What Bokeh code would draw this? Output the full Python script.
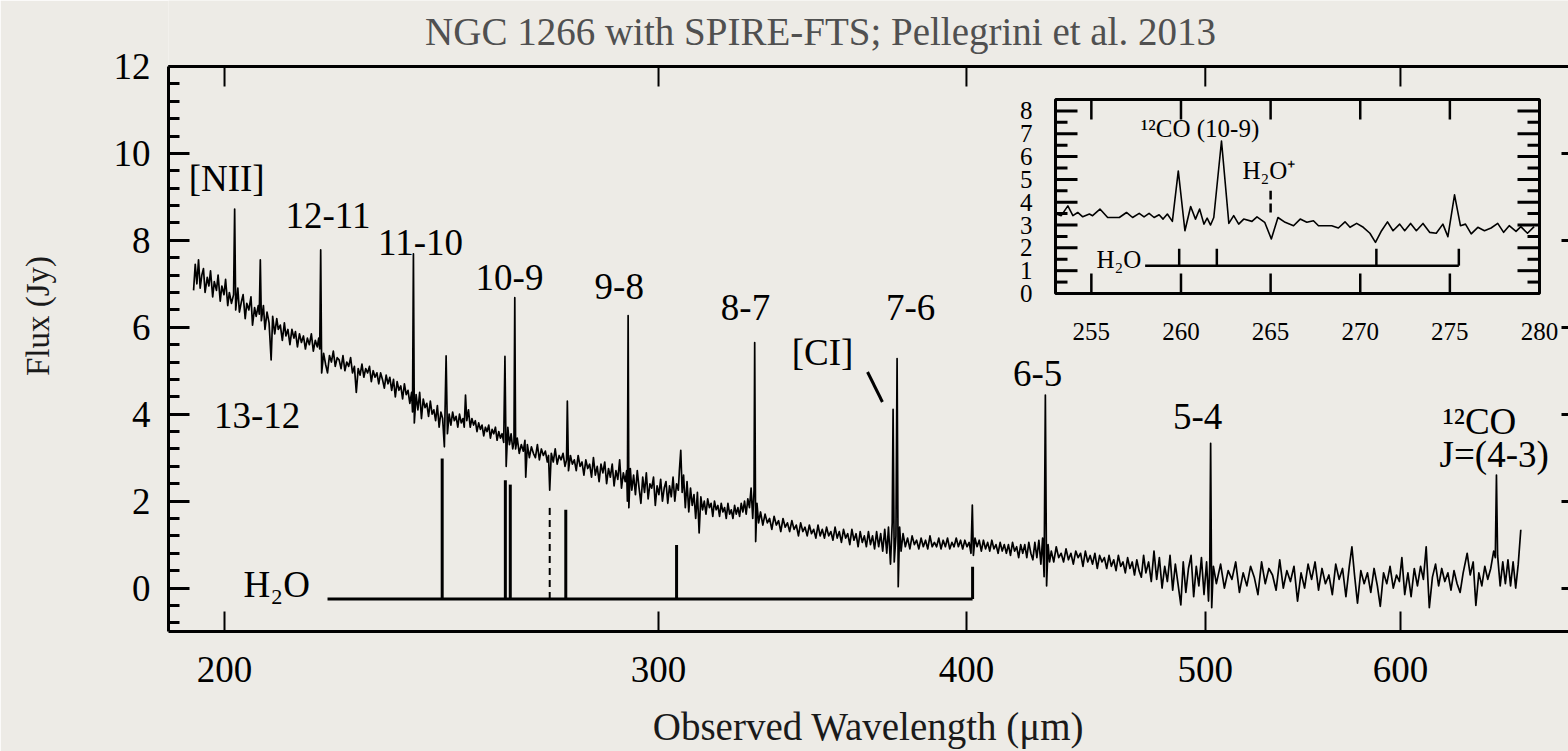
from math import log10
from bokeh.plotting import figure
from bokeh.models import (Range1d, LinearScale, LinearAxis, FixedTicker,
                          SingleIntervalTicker, PrintfTickFormatter, CustomJSTickFormatter)
from bokeh.core.properties import value
from bokeh.embed import file_html
from bokeh.resources import INLINE

FONT = "Liberation Serif"
BG = "#edebe6"

# ---------------- main spectrum: (wavelength um, flux Jy) ----------------
spec_a = [(194.3, 6.85), (194.6, 7.45), (194.9, 7.0), (195.2, 7.55), (195.5, 6.9), (195.8, 7.2),
          (196.1, 7.35), (196.4, 6.8), (196.8, 7.15), (197.1, 6.95), (197.4, 7.3), (197.8, 6.7),
          (198.1, 7.05), (198.5, 6.85), (198.8, 7.2), (199.2, 6.6), (199.5, 6.95), (199.9, 6.75),
          (200.2, 7.1), (200.6, 6.5), (200.9, 6.8), (201.3, 6.55), (201.7, 6.75), (201.9, 8.72),
          (202.1, 6.4), (202.5, 6.9), (202.8, 6.35), (203.2, 6.6), (203.5, 6.75), (203.9, 6.2),
          (204.2, 6.55), (204.6, 6.4), (205.0, 6.7), (205.3, 6.05), (205.7, 6.45), (206.0, 6.25),
          (206.4, 6.5), (206.6, 6.3), (206.8, 7.55), (207.0, 6.15), (207.4, 6.5), (207.7, 5.95),
          (208.1, 6.35), (208.5, 6.1), (208.9, 5.25), (209.2, 6.25), (209.6, 5.85), (210.0, 6.2),
          (210.3, 5.95), (210.7, 6.05), (211.1, 5.7), (211.5, 6.1), (211.8, 5.8), (212.2, 5.95),
          (212.6, 5.6), (213.0, 5.95), (213.4, 5.75), (213.7, 5.9), (214.1, 5.55), (214.5, 5.85),
          (214.9, 5.65), (215.3, 5.8), (215.7, 5.5), (216.1, 5.75), (216.5, 5.6), (216.9, 5.85),
          (217.3, 5.45), (217.7, 5.7), (218.1, 5.55), (218.4, 5.75), (218.6, 5.5), (218.8, 7.78),
          (219.0, 4.95)]
spec_b = [(219.4, 5.4), (219.8, 5.15), (220.2, 4.95), (220.6, 5.35), (221.0, 5.2), (221.4, 5.45),
          (221.8, 5.1), (222.2, 5.3), (222.6, 5.25), (223.0, 5.05), (223.4, 5.35), (223.8, 5.0),
          (224.2, 5.2), (224.6, 5.1), (225.0, 5.3), (225.4, 4.95), (225.8, 5.1), (226.2, 4.5),
          (226.6, 5.05), (227.0, 4.9), (227.4, 5.15), (227.8, 4.85), (228.2, 5.05), (228.6, 4.95),
          (229.0, 5.1), (229.4, 4.75), (229.8, 5.0), (230.2, 4.85), (230.6, 4.95), (231.0, 4.7),
          (231.4, 4.95), (231.8, 4.8), (232.2, 4.6), (232.6, 4.9), (233.0, 4.7), (233.4, 4.85),
          (233.8, 4.55), (234.2, 4.8), (234.6, 4.4), (235.0, 4.75), (235.4, 4.55), (235.8, 4.65),
          (236.2, 4.35), (236.6, 4.7), (237.0, 4.45), (237.4, 4.55), (237.8, 4.25), (238.2, 4.5),
          (238.4, 4.05), (238.6, 7.69), (238.8, 3.8), (239.2, 4.45), (239.6, 4.1), (240.0, 4.5),
          (240.4, 3.9), (240.8, 4.35), (241.2, 4.15), (241.6, 4.25), (242.0, 3.95), (242.4, 4.3),
          (242.8, 4.0), (243.2, 4.1), (243.6, 3.85), (244.0, 4.2), (244.4, 3.7), (244.8, 4.05),
          (245.2, 3.9), (245.6, 3.25), (246.0, 5.34), (246.3, 3.55)]
spec_c = [(246.7, 4.0), (247.1, 3.75), (247.5, 4.05), (247.9, 3.85), (248.3, 3.95), (248.7, 3.7),
          (249.1, 4.0), (249.5, 3.8), (249.9, 3.9), (250.2, 3.7), (250.5, 4.44), (250.8, 3.85),
          (251.2, 4.1), (251.6, 3.7), (252.0, 3.9), (252.4, 3.75), (252.8, 3.85), (253.2, 3.6),
          (253.6, 3.8), (254.0, 3.65), (254.4, 3.75), (254.8, 3.5), (255.2, 3.7), (255.6, 3.6),
          (256.0, 3.75), (256.4, 3.45), (256.8, 3.65), (257.2, 3.55), (257.6, 3.7), (258.0, 3.4),
          (258.4, 3.6), (258.8, 3.45), (259.2, 3.55), (259.6, 3.35), (259.9, 5.33), (260.2, 2.8),
          (260.6, 3.7), (261.0, 3.3), (261.4, 3.55), (261.8, 3.2), (262.1, 3.35), (262.3, 6.68),
          (262.5, 3.2)]
spec_d = [(262.9, 3.45), (263.4, 3.1), (263.9, 3.3), (264.4, 3.15), (264.8, 3.4), (265.0, 2.55),
          (265.4, 3.3), (265.9, 3.0), (266.4, 3.25), (266.9, 3.1), (267.4, 3.0), (267.9, 3.3),
          (268.4, 2.95), (268.9, 3.2), (269.4, 3.05), (269.9, 3.15), (270.4, 2.9), (270.7, 3.05),
          (271.0, 2.25), (271.4, 3.1), (271.9, 2.9), (272.4, 3.2), (272.9, 2.85), (273.4, 3.05),
          (273.9, 2.95), (274.4, 3.1), (274.9, 2.8), (275.3, 2.95), (275.5, 4.3), (275.8, 2.7),
          (276.3, 3.05), (276.8, 2.85), (277.3, 2.95), (277.8, 2.7), (278.3, 3.05), (278.8, 2.8),
          (279.3, 2.9), (279.8, 2.6), (280.3, 2.95), (280.8, 2.75), (281.3, 2.85), (281.8, 2.55),
          (282.3, 3.0), (282.8, 2.6), (283.3, 2.8), (283.8, 2.45), (284.3, 2.85), (284.8, 2.65),
          (285.3, 2.9), (285.8, 2.4), (286.3, 2.75), (286.8, 2.55), (287.3, 2.85), (287.8, 2.35),
          (288.3, 2.7), (288.8, 2.5), (289.3, 2.95), (289.8, 2.3), (290.3, 2.65), (290.8, 2.45),
          (291.2, 2.7), (291.4, 2.0), (291.6, 6.27), (291.8, 1.85), (292.2, 2.75), (292.6, 2.25)]
spec_e = [(293.1, 2.6), (293.6, 2.15), (294.1, 2.7), (294.6, 2.3), (295.1, 1.95), (295.6, 2.55),
          (296.1, 2.2), (296.6, 2.65), (297.1, 2.05), (297.6, 2.4), (298.1, 2.3), (298.6, 2.55),
          (299.1, 1.9), (299.6, 2.35), (300.1, 2.15), (300.6, 2.5), (301.1, 2.0), (301.6, 2.3),
          (302.1, 2.45), (302.6, 1.95), (303.1, 2.35), (303.6, 2.1), (304.1, 2.55), (304.6, 2.0),
          (305.1, 2.4), (305.6, 2.25), (305.9, 2.7), (306.3, 3.17), (306.7, 2.2), (307.1, 2.6),
          (307.6, 1.85), (308.1, 2.45), (308.6, 1.75), (309.1, 2.3), (309.6, 1.9), (310.1, 2.15),
          (310.6, 1.6), (311.1, 2.2), (311.6, 1.27), (312.1, 2.1), (312.6, 1.8), (313.1, 2.0),
          (313.6, 1.7), (314.1, 2.05), (314.6, 1.85), (315.1, 1.95), (315.6, 1.65), (316.1, 2.0),
          (316.6, 1.8), (317.1, 1.9), (317.6, 1.65), (318.1, 1.95), (318.6, 1.75), (319.1, 1.85),
          (319.6, 1.6), (320.1, 1.95), (320.6, 1.7), (321.1, 1.8), (321.6, 1.6), (322.1, 1.9),
          (322.6, 1.7), (323.1, 1.85), (323.6, 1.65), (324.1, 1.95), (324.6, 1.75), (325.1, 2.0),
          (325.6, 1.7), (326.1, 2.05), (326.6, 1.85), (327.1, 2.3), (327.6, 1.6), (328.0, 2.25),
          (328.2, 5.65), (328.5, 1.07), (328.9, 1.95), (329.4, 1.5)]
spec_f = [(330.0, 1.75), (330.7, 1.45), (331.4, 1.7), (332.1, 1.5), (332.8, 1.6), (333.5, 1.35),
          (334.2, 1.65), (334.9, 1.45), (335.6, 1.55), (336.3, 1.3), (337.0, 1.6), (337.7, 1.4),
          (338.4, 1.5), (339.1, 1.3), (339.8, 1.55), (340.5, 1.35), (341.2, 1.45), (341.9, 1.2),
          (342.6, 1.5), (343.3, 1.3), (344.0, 1.4), (344.7, 1.2), (345.4, 1.45), (346.1, 1.25),
          (346.8, 1.35), (347.5, 1.15), (348.2, 1.45), (348.9, 1.2), (349.6, 1.35), (350.3, 1.15),
          (351.0, 1.4), (351.7, 1.2), (352.4, 1.3), (353.1, 1.1), (353.8, 1.4), (354.5, 1.15),
          (355.2, 1.3), (355.9, 1.05), (356.6, 1.35), (357.3, 1.15), (358.0, 1.25), (358.7, 1.0),
          (359.4, 1.35), (360.1, 1.1), (360.8, 1.25), (361.5, 0.95), (362.2, 1.3), (362.9, 1.05),
          (363.6, 1.2), (364.3, 0.95), (365.0, 1.3), (365.7, 1.0), (366.4, 1.2), (367.1, 0.9),
          (367.8, 1.3), (368.5, 0.95), (369.2, 1.25), (369.9, 0.85), (370.6, 1.35), (371.3, 0.8),
          (371.9, 1.4), (372.6, 0.55), (373.2, 1.5), (373.5, 4.11), (373.9, 0.6), (374.5, 1.2),
          (374.9, 5.28), (375.3, 0.03), (375.8, 1.4), (376.3, 0.85)]
spec_g = [(377.0, 1.25), (377.8, 0.95), (378.6, 1.15), (379.4, 0.9), (380.2, 1.2), (381.0, 1.0),
          (381.8, 1.1), (382.6, 0.9), (383.4, 1.15), (384.2, 0.95), (385.0, 1.1), (385.8, 0.9),
          (386.6, 1.2), (387.4, 0.95), (388.2, 1.05), (389.0, 0.95), (389.8, 1.15), (390.6, 0.9),
          (391.4, 1.1), (392.2, 0.95), (393.0, 1.15), (393.8, 0.9), (394.6, 1.05), (395.4, 0.95),
          (396.2, 1.15), (397.0, 0.95), (397.8, 1.1), (398.6, 0.9), (399.4, 1.1), (400.2, 0.95),
          (401.0, 1.05), (401.7, 0.8), (402.2, 1.91), (402.6, 0.75), (403.2, 1.15), (404.0, 0.95),
          (404.8, 1.1), (405.6, 0.85), (406.4, 1.1), (407.2, 0.9), (408.0, 1.05), (408.8, 0.85),
          (409.6, 1.1), (410.4, 0.9), (411.2, 1.0), (412.0, 0.8), (412.8, 1.05), (413.6, 0.85),
          (414.4, 1.0), (415.2, 0.8), (416.0, 1.0), (416.8, 0.75), (417.6, 1.05), (418.4, 0.85),
          (419.2, 0.95), (420.0, 0.7), (420.8, 1.0), (421.6, 0.8), (422.4, 1.0), (423.2, 0.7),
          (424.0, 1.05), (424.8, 0.8), (425.6, 0.65), (426.4, 1.05), (427.2, 0.7), (428.0, 1.1),
          (428.8, 0.55), (429.5, 1.15), (430.1, 0.26), (430.6, 4.44), (431.1, 0.05), (431.7, 1.0),
          (432.3, 0.6)]
spec_h = [(433.0, 0.85), (434.0, 0.6), (435.0, 0.95), (436.0, 0.7), (437.0, 0.8), (438.0, 0.6),
          (439.0, 0.9), (440.0, 0.65), (441.0, 0.8), (442.0, 0.55), (443.0, 0.85), (444.0, 0.7),
          (445.0, 0.8), (446.0, 0.5), (447.0, 0.85), (448.0, 0.6), (449.0, 0.75), (450.0, 0.55),
          (451.0, 0.8), (452.0, 0.45), (453.0, 0.75), (454.0, 0.6), (455.0, 0.7), (456.0, 0.45),
          (457.0, 0.75), (458.0, 0.5), (459.0, 0.65), (460.0, 0.4), (461.0, 0.75), (462.0, 0.5),
          (463.0, 0.6), (464.0, 0.35), (465.0, 0.7), (466.0, 0.45), (467.0, 0.6), (468.0, 0.3),
          (469.0, 0.65), (470.0, 0.4), (471.0, 0.25), (472.0, 0.75), (473.0, 0.35), (474.2, 0.6),
          (475.4, 0.15), (476.6, 0.85), (477.8, 0.2), (479.0, 0.7), (480.2, 0.0), (481.4, 0.5),
          (482.6, 0.15), (483.8, 0.75), (485.0, -0.05), (486.2, 0.55), (487.4, 0.1), (488.7, -0.39),
          (489.8, 0.6), (491.0, -0.1), (492.2, 0.45), (493.4, 0.75), (494.6, -0.2), (495.8, 0.5),
          (497.0, 0.05), (498.2, 0.7), (499.4, -0.15), (500.6, 0.6), (501.5, -0.3), (502.1, 0.55),
          (502.5, 3.33), (503.0, -0.45), (503.8, 0.5)]
spec_i = [(505.2, 0.1), (507.2, 0.55), (509.0, 0.0), (510.8, 0.4), (512.6, 0.2), (514.4, 0.6),
          (516.2, -0.1), (518.0, 0.35), (519.8, 0.05), (521.6, 0.5), (523.4, 0.25), (525.2, -0.15),
          (527.0, 0.6), (528.8, 0.1), (530.6, 0.45), (532.4, 0.3), (534.2, -0.05), (536.0, 0.65),
          (537.8, 0.0), (539.6, 0.4), (541.4, 0.15), (543.2, 0.5), (545.0, -0.3), (546.8, 0.35),
          (548.6, 0.0), (550.4, 0.55), (552.2, 0.2), (554.0, 0.6), (555.8, -0.05), (557.6, 0.45),
          (559.4, 0.1), (561.2, 0.3), (563.0, -0.15), (564.8, 0.55), (566.6, 0.2), (568.4, 0.45),
          (570.2, -0.2), (572.0, 0.5), (573.4, 0.95), (574.8, 0.3), (576.4, -0.35), (578.2, 0.4),
          (580.0, 0.1), (581.8, 0.35), (583.6, -0.1), (585.4, 0.45), (587.2, 0.05), (588.8, -0.42),
          (590.6, 0.35), (592.4, 0.1), (594.2, 0.5), (596.0, 0.0), (597.8, 0.3), (599.4, 0.15),
          (600.8, 0.7), (602.4, -0.15), (604.2, 0.35), (606.0, -0.2), (607.8, 0.45), (609.6, 0.05),
          (611.4, 0.5), (613.0, 0.2), (614.6, 0.95), (616.4, -0.45), (618.2, 0.25), (620.0, 0.55),
          (621.8, 0.05), (623.6, 0.45), (625.4, 0.15), (627.2, 0.35), (629.0, -0.05), (630.8, 0.4),
          (632.6, 0.1), (634.4, -0.1), (636.2, 0.35), (638.6, 0.8), (640.4, 0.3), (642.2, 0.6),
          (643.8, -0.4), (645.6, 0.35), (647.4, 0.05), (649.2, 0.5), (651.0, 0.2), (652.8, 0.45),
          (654.6, 0.85), (655.6, 0.7), (656.3, 2.6), (657.0, 0.75), (658.6, 0.05), (660.2, 0.6),
          (661.8, 0.1), (663.4, 0.65), (665.0, 0.05), (666.6, 0.6), (668.2, 0.0), (669.8, 0.55),
          (671.4, 1.34)]
spec_chunks = [spec_a, spec_b, spec_c, spec_d, spec_e, spec_f, spec_g, spec_h, spec_i]

# ---------------- inset spectrum (zoom of 253-280 um) ----------------
inset_wave = [253.04, 253.32, 253.69, 253.97, 254.24, 254.52, 254.89, 255.07, 255.48, 255.91,
              256.56, 256.96, 257.30, 257.67, 257.94, 258.22, 258.50, 258.78, 259.00, 259.24,
              259.52, 259.85, 260.22, 260.54, 260.81, 261.04, 261.28, 261.46, 261.65, 261.83,
              262.26, 262.67, 262.94, 263.22, 263.50, 263.96, 264.24, 264.67, 265.04, 265.41,
              265.81, 266.28, 266.65, 267.02, 267.39, 267.67, 268.04, 268.41, 268.78, 269.15,
              269.43, 269.80, 270.17, 270.54, 270.85, 271.19, 271.52, 271.83, 272.20, 272.48,
              272.81, 273.13, 273.50, 273.87, 274.24, 274.61, 274.89, 275.26, 275.59, 275.87,
              276.19, 276.56, 276.93, 277.30, 277.67, 278.00, 278.31, 278.69, 278.96, 279.33,
              279.70]
inset_flux = [3.48, 3.41, 3.84, 3.41, 3.55, 3.36, 3.48, 3.41, 3.70, 3.33,
              3.33, 3.55, 3.33, 3.51, 3.36, 3.51, 3.33, 3.45, 3.26, 3.48,
              3.16, 5.37, 2.75, 3.81, 3.26, 3.70, 3.04, 3.30, 3.00, 3.33,
              6.68, 3.07, 3.41, 3.04, 3.26, 3.16, 3.36, 3.12, 2.39, 3.33,
              3.12, 2.97, 3.26, 3.12, 3.19, 2.97, 2.97, 2.97, 2.87, 3.14,
              2.90, 3.07, 2.90, 2.64, 2.24, 2.75, 3.14, 2.75, 3.04, 2.75,
              3.07, 2.75, 3.07, 2.68, 2.64, 3.04, 2.49, 4.32, 2.97, 3.04,
              2.61, 2.90, 2.75, 2.87, 3.07, 2.68, 2.97, 2.72, 2.93, 2.64,
              2.93]

# ---------------- ticks ----------------
x_ticks = [200, 300, 400, 500, 600]
inset_x_ticks = [255, 260, 265, 270, 275, 280]
inset_y_ticks = [0, 1, 2, 3, 4, 5, 6, 7, 8]

# ---------------- line identifications ----------------
line_labels = ["[NII]", "12-11", "11-10", "10-9", "9-8", "8-7", "7-6", "[CI]", "6-5", "5-4", "13-12"]
line_label_wave = [200.4, 220.3, 240.2, 261.0, 289.2, 325.4, 379.7, 349.7, 427.5, 496.4, 206.2]
line_label_flux = [9.42, 8.57, 7.95, 7.15, 6.94, 6.46, 6.46, 5.42, 4.94, 3.95, 3.98]
ci_pointer_wave = [364.7, 369.8]
ci_pointer_flux = [4.97, 4.28]

h2o_wave = [245.1, 260.0, 261.2, 275.1, 305.1, 402.3]
h2o_top = [2.98, 2.48, 2.38, 1.80, 0.99, 0.49]
h2o_dashed_wave = [271.0]
h2o_dashed_top = [1.87]
h2o_base = -0.25
h2o_span = [220.2, 402.3]

inset_h2o_wave = [259.9, 262.0, 270.9, 275.5]
inset_h2o_base = 1.22
inset_h2o_top = 1.96
inset_h2o_span = [258.0, 275.5]
inset_h2op_wave = [265.0]
inset_h2op_range = [3.55, 4.5]

TITLE = "NGC 1266 with SPIRE-FTS; Pellegrini et al. 2013"

# ---------------- geometry (canvas pixels) ----------------
W, H = 1568, 751
FRAME = dict(left=168, right=1568, top=0, bottom=631)   # drawing area (title lives inside it)
BOX_TOP = 66                                           # canvas y of the plot's top edge (12 Jy)
XR = (189.8, 702.0)
Y_LO, Y_BOX = -1.0, 12.0
INSET_BOX = dict(left=1055, right=1539, top=99, bottom=293)
INSET_X = (253.0, 280.0)
INSET_Y = (0.0, 8.5)
TITLE_POS = (820, 31)   # canvas px: centre x, baseline y

fw = FRAME["right"] - FRAME["left"]
fh = FRAME["bottom"] - FRAME["top"]
px_per_jy = (FRAME["bottom"] - BOX_TOP) / (Y_BOX - Y_LO)
Y_HI = Y_BOX + (BOX_TOP - FRAME["top"]) / px_per_jy


def px_to_wave(px):
    lo, hi = log10(XR[0]), log10(XR[1])
    return 10 ** (lo + (px - FRAME["left"]) / fw * (hi - lo))


def px_to_flux(py):
    return Y_HI - (py - FRAME["top"]) / px_per_jy


wave = [w for ch in spec_chunks for (w, f) in ch]
flux = [f for ch in spec_chunks for (w, f) in ch]

p = figure(width=W, height=H, x_axis_type="log",
           x_range=Range1d(*XR), y_range=Range1d(Y_LO, Y_HI),
           output_backend="svg", toolbar_location=None,
           min_border_left=FRAME["left"], min_border_right=0,
           min_border_top=FRAME["top"], min_border_bottom=H - FRAME["bottom"])
p.background_fill_color = BG
p.border_fill_color = BG
p.outline_line_color = None
p.xgrid.grid_line_color = None
p.ygrid.grid_line_color = None

# bottom axis
xb = p.below[0]
xb.ticker = FixedTicker(ticks=x_ticks)
xb.formatter = PrintfTickFormatter(format="%d")
xb.major_tick_in = 20
xb.major_tick_out = 0
xb.minor_tick_in = 0
xb.minor_tick_out = 0
xb.major_tick_line_width = 2
xb.axis_line_width = 3
xb.major_label_text_font = FONT
xb.major_label_text_font_size = "37px"
xb.major_label_text_color = "black"
xb.major_label_standoff = 25
xb.axis_label = "Observed Wavelength (\u03bcm)"
xb.axis_label_text_font = FONT
xb.axis_label_text_font_size = "39px"
xb.axis_label_text_font_style = "normal"
xb.axis_label_text_color = "#1a1a1a"
xb.axis_label_standoff = 20

# left axis (limited to the plot box)
yl = p.left[0]
yl.bounds = (Y_LO, Y_BOX)
yl.ticker = SingleIntervalTicker(interval=2, num_minor_ticks=5)
yl.major_tick_in = 21
yl.major_tick_out = 0
yl.minor_tick_in = 11
yl.minor_tick_out = 0
yl.major_tick_line_width = 3
yl.minor_tick_line_width = 3
yl.axis_line_width = 3
yl.major_label_text_font = FONT
yl.major_label_text_font_size = "37px"
yl.major_label_text_color = "black"
yl.major_label_standoff = 18
yl.axis_label = "Flux (Jy)"
yl.axis_label_text_font = FONT
yl.axis_label_text_font_size = "33px"
yl.axis_label_text_font_style = "normal"
yl.axis_label_text_color = "#1a1a1a"
yl.axis_label_standoff = 55

blank = CustomJSTickFormatter(code="return ''")
right_axis = LinearAxis(ticker=SingleIntervalTicker(interval=2, num_minor_ticks=5), formatter=blank,
                        bounds=(Y_LO, Y_BOX),
                        major_tick_in=7, major_tick_out=0, minor_tick_in=0, minor_tick_out=0,
                        major_tick_line_width=3, axis_line_color=None, major_label_standoff=0,
                        major_label_text_font_size="1px")
p.add_layout(right_axis, "right")

# top edge of the box with inward ticks
p.segment(x0=[XR[0]], y0=[Y_BOX], x1=[XR[1]], y1=[Y_BOX], line_color="black", line_width=3)
top_tick = 20 / px_per_jy
p.segment(x0=x_ticks, y0=[Y_BOX] * len(x_ticks), x1=x_ticks, y1=[Y_BOX - top_tick] * len(x_ticks),
          line_color="black", line_width=2)

# title
p.text(x=[px_to_wave(TITLE_POS[0])], y=[px_to_flux(TITLE_POS[1])], text=[TITLE],
       text_font=value(FONT), text_font_size="39px", text_color="#505050",
       text_align="center", text_baseline="alphabetic")

# spectrum
p.line(wave, flux, line_color="black", line_width=1.7, line_join="round")

# H2O markers
p.segment(x0=[h2o_span[0]], y0=[h2o_base], x1=[h2o_span[1]], y1=[h2o_base],
          line_color="black", line_width=3)
p.segment(x0=h2o_wave, y0=[h2o_base] * len(h2o_wave), x1=h2o_wave, y1=h2o_top,
          line_color="black", line_width=3)
p.segment(x0=h2o_dashed_wave, y0=[h2o_base], x1=h2o_dashed_wave, y1=h2o_dashed_top,
          line_color="black", line_width=2, line_dash="7 5")
p.text(x=[210.0], y=[0.07], text=["H\u2082O"], text_font=value(FONT), text_font_size="37px",
       text_align="center", text_baseline="middle", text_color="black")

# line labels
p.text(x=line_label_wave, y=line_label_flux, text=line_labels, text_font=value(FONT),
       text_font_size="37px", text_align="center", text_baseline="middle", text_color="black")
p.line(ci_pointer_wave, ci_pointer_flux, line_color="black", line_width=3)
p.text(x=[646.0], y=[3.83], text=["\u00b9\u00b2CO"], text_font=value(FONT), text_font_size="37px",
       text_align="center", text_baseline="middle", text_color="black")
p.text(x=[654.9], y=[3.08], text=["J=(4-3)"], text_font=value(FONT), text_font_size="37px",
       text_align="center", text_baseline="middle", text_color="black")

# ---------------- inset via extra ranges ----------------
fx0 = (INSET_BOX["left"] - FRAME["left"]) / fw
fx1 = (INSET_BOX["right"] - FRAME["left"]) / fw
sx = (INSET_X[1] - INSET_X[0]) / (fx1 - fx0)
ix0 = INSET_X[0] - fx0 * sx
fy0 = (FRAME["bottom"] - INSET_BOX["bottom"]) / fh
fy1 = (FRAME["bottom"] - INSET_BOX["top"]) / fh
sy = (INSET_Y[1] - INSET_Y[0]) / (fy1 - fy0)
iy0 = INSET_Y[0] - fy0 * sy
p.extra_x_ranges = {"ix": Range1d(ix0, ix0 + sx)}
p.extra_x_scales = {"ix": LinearScale()}
p.extra_y_ranges = {"iy": Range1d(iy0, iy0 + sy)}
p.extra_y_scales = {"iy": LinearScale()}
px_x = (INSET_BOX["right"] - INSET_BOX["left"]) / (INSET_X[1] - INSET_X[0])
px_y = (INSET_BOX["bottom"] - INSET_BOX["top"]) / (INSET_Y[1] - INSET_Y[0])
R = dict(x_range_name="ix", y_range_name="iy")

p.quad(left=[INSET_X[0]], right=[INSET_X[1]], bottom=[INSET_Y[0]], top=[INSET_Y[1]],
       fill_color=None, line_color="black", line_width=3, **R)
p.line(inset_wave, inset_flux, line_color="black", line_width=1.6, line_join="round", **R)

# inset x ticks (bottom & top)
xt = [t for t in inset_x_ticks if INSET_X[0] < t < INSET_X[1]]
tl = 20 / px_y
p.segment(x0=xt, y0=[INSET_Y[0]] * len(xt), x1=xt, y1=[INSET_Y[0] + tl] * len(xt),
          line_color="black", line_width=2.5, **R)
p.segment(x0=xt, y0=[INSET_Y[1]] * len(xt), x1=xt, y1=[INSET_Y[1] - tl] * len(xt),
          line_color="black", line_width=2.5, **R)
# inset y ticks (left & right), major every 1, minor every 0.5
maj = [t for t in inset_y_ticks if INSET_Y[0] < t < INSET_Y[1]]
mnr = [t + 0.5 for t in inset_y_ticks if t + 0.5 < INSET_Y[1]]
lmaj = 22 / px_x
lmin = 12 / px_x
for ticks, ln in ((maj, lmaj), (mnr, lmin)):
    p.segment(x0=[INSET_X[0]] * len(ticks), y0=ticks, x1=[INSET_X[0] + ln] * len(ticks), y1=ticks,
              line_color="black", line_width=3, **R)
    p.segment(x0=[INSET_X[1]] * len(ticks), y0=ticks, x1=[INSET_X[1] - ln] * len(ticks), y1=ticks,
              line_color="black", line_width=3, **R)

# inset tick labels
p.text(x=inset_x_ticks, y=[INSET_Y[0] - 38 / px_y] * len(inset_x_ticks),
       text=[str(t) for t in inset_x_ticks], text_font=value(FONT), text_font_size="25px",
       text_align="center", text_baseline="middle", text_color="black", **R)
p.text(x=[INSET_X[0] - 23 / px_x] * len(inset_y_ticks), y=inset_y_ticks,
       text=[str(t) for t in inset_y_ticks], text_font=value(FONT), text_font_size="25px",
       text_align="right", text_baseline="middle", text_color="black", **R)

# inset H2O / H2O+ markers and labels
p.segment(x0=[inset_h2o_span[0]], y0=[inset_h2o_base], x1=[inset_h2o_span[1]], y1=[inset_h2o_base],
          line_color="black", line_width=2.5, **R)
p.segment(x0=inset_h2o_wave, y0=[inset_h2o_base] * len(inset_h2o_wave), x1=inset_h2o_wave,
          y1=[inset_h2o_top] * len(inset_h2o_wave), line_color="black", line_width=2.5, **R)
p.segment(x0=inset_h2op_wave, y0=[inset_h2op_range[0]], x1=inset_h2op_wave, y1=[inset_h2op_range[1]],
          line_color="black", line_width=2.5, line_dash="9 4", **R)
p.text(x=[256.54], y=[1.48], text=["H\u2082O"], text_font=value(FONT), text_font_size="25px",
       text_align="center", text_baseline="middle", text_color="black", **R)
p.text(x=[264.9], y=[5.39], text=["H\u2082O\u207a"], text_font=value(FONT), text_font_size="25px",
       text_align="center", text_baseline="middle", text_color="black", **R)
p.text(x=[261.06], y=[7.23], text=["\u00b9\u00b2CO (10-9)"], text_font=value(FONT),
       text_font_size="25px", text_align="center", text_baseline="middle", text_color="black", **R)

open("out.html", "w").write(file_html(p, INLINE))
